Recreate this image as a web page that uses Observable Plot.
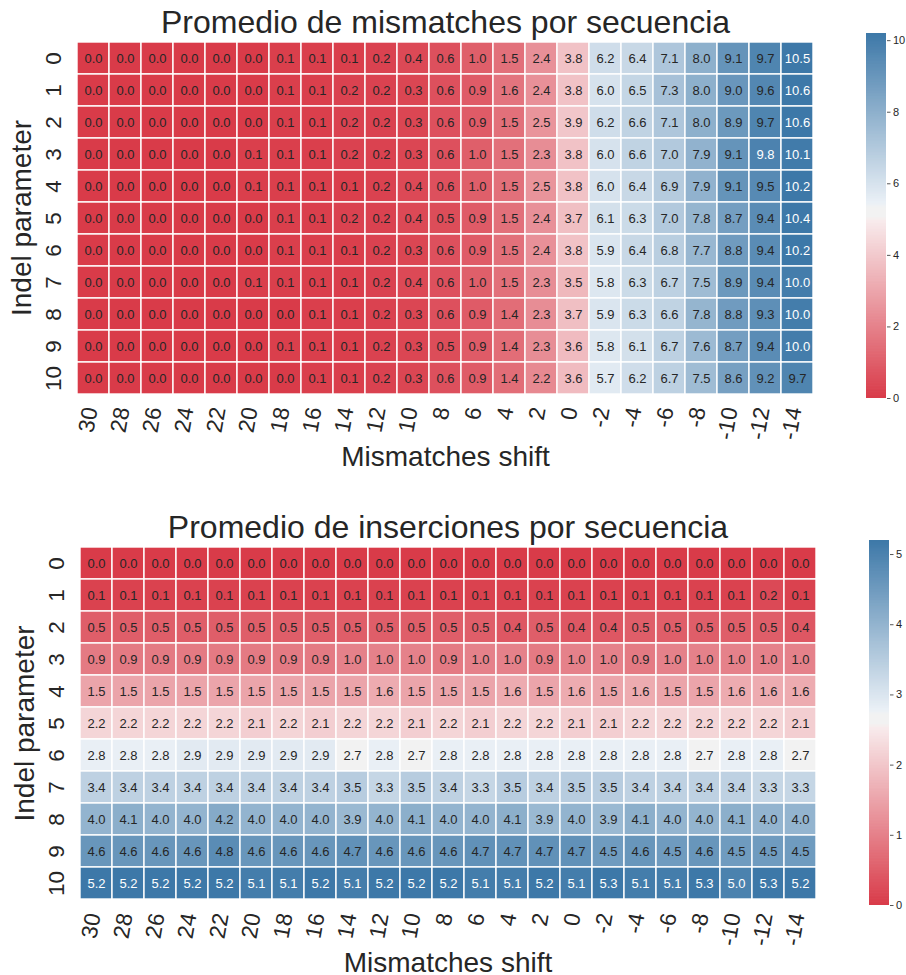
<!DOCTYPE html>
<html>
<head>
<meta charset="utf-8">
<script src="https://cdn.jsdelivr.net/npm/d3@7"></script>
<script src="https://cdn.jsdelivr.net/npm/@observablehq/plot@0.6"></script>
<style>
  html, body { margin: 0; padding: 0; background: #fff; overflow: hidden; }
  #root { position: relative; width: 906px; height: 975px; font-family: "Liberation Sans", Arial, sans-serif; }
  #root > div, #root > svg { position: absolute; }
</style>
</head>
<body>
<div id="root"></div>
<script>
// ---- data ----
const shifts = [30, 28, 26, 24, 22, 20, 18, 16, 14, 12, 10, 8, 6, 4, 2, 0, -2, -4, -6, -8, -10, -12, -14];
const indelParams = [0, 1, 2, 3, 4, 5, 6, 7, 8, 9, 10];

const mismatchRows = [
  [0.0,0.0,0.0,0.0,0.0,0.0,0.1,0.1,0.1,0.2,0.4,0.6,1.0,1.5,2.4,3.8,6.2,6.4,7.1,8.0,9.1,9.7,10.5],
  [0.0,0.0,0.0,0.0,0.0,0.0,0.1,0.1,0.2,0.2,0.3,0.6,0.9,1.6,2.4,3.8,6.0,6.5,7.3,8.0,9.0,9.6,10.6],
  [0.0,0.0,0.0,0.0,0.0,0.0,0.1,0.1,0.2,0.2,0.3,0.6,0.9,1.5,2.5,3.9,6.2,6.6,7.1,8.0,8.9,9.7,10.6],
  [0.0,0.0,0.0,0.0,0.0,0.1,0.1,0.1,0.2,0.2,0.3,0.6,1.0,1.5,2.3,3.8,6.0,6.6,7.0,7.9,9.1,9.8,10.1],
  [0.0,0.0,0.0,0.0,0.0,0.1,0.1,0.1,0.1,0.2,0.4,0.6,1.0,1.5,2.5,3.8,6.0,6.4,6.9,7.9,9.1,9.5,10.2],
  [0.0,0.0,0.0,0.0,0.0,0.0,0.1,0.1,0.2,0.2,0.4,0.5,0.9,1.5,2.4,3.7,6.1,6.3,7.0,7.8,8.7,9.4,10.4],
  [0.0,0.0,0.0,0.0,0.0,0.0,0.1,0.1,0.1,0.2,0.3,0.6,0.9,1.5,2.4,3.8,5.9,6.4,6.8,7.7,8.8,9.4,10.2],
  [0.0,0.0,0.0,0.0,0.0,0.1,0.1,0.1,0.1,0.2,0.4,0.6,1.0,1.5,2.3,3.5,5.8,6.3,6.7,7.5,8.9,9.4,10.0],
  [0.0,0.0,0.0,0.0,0.0,0.0,0.0,0.1,0.1,0.2,0.3,0.6,0.9,1.4,2.3,3.7,5.9,6.3,6.6,7.8,8.8,9.3,10.0],
  [0.0,0.0,0.0,0.0,0.0,0.0,0.1,0.1,0.1,0.2,0.3,0.5,0.9,1.4,2.3,3.6,5.8,6.1,6.7,7.6,8.7,9.4,10.0],
  [0.0,0.0,0.0,0.0,0.0,0.0,0.0,0.1,0.1,0.2,0.3,0.6,0.9,1.4,2.2,3.6,5.7,6.2,6.7,7.5,8.6,9.2,9.7]
];

const insertionRows = [
  [0.0,0.0,0.0,0.0,0.0,0.0,0.0,0.0,0.0,0.0,0.0,0.0,0.0,0.0,0.0,0.0,0.0,0.0,0.0,0.0,0.0,0.0,0.0],
  [0.1,0.1,0.1,0.1,0.1,0.1,0.1,0.1,0.1,0.1,0.1,0.1,0.1,0.1,0.1,0.1,0.1,0.1,0.1,0.1,0.1,0.2,0.1],
  [0.5,0.5,0.5,0.5,0.5,0.5,0.5,0.5,0.5,0.5,0.5,0.5,0.5,0.4,0.5,0.4,0.4,0.5,0.5,0.5,0.5,0.5,0.4],
  [0.9,0.9,0.9,0.9,0.9,0.9,0.9,0.9,1.0,1.0,1.0,0.9,1.0,1.0,0.9,1.0,1.0,0.9,1.0,1.0,1.0,1.0,1.0],
  [1.5,1.5,1.5,1.5,1.5,1.5,1.5,1.5,1.5,1.6,1.5,1.5,1.5,1.6,1.5,1.6,1.5,1.6,1.5,1.5,1.6,1.6,1.6],
  [2.2,2.2,2.2,2.2,2.2,2.1,2.2,2.1,2.2,2.2,2.1,2.2,2.1,2.2,2.2,2.1,2.1,2.2,2.2,2.2,2.2,2.2,2.1],
  [2.8,2.8,2.8,2.9,2.9,2.9,2.9,2.9,2.7,2.8,2.7,2.8,2.8,2.8,2.8,2.8,2.8,2.8,2.8,2.7,2.8,2.8,2.7],
  [3.4,3.4,3.4,3.4,3.4,3.4,3.4,3.4,3.5,3.3,3.5,3.4,3.3,3.5,3.4,3.5,3.5,3.4,3.4,3.4,3.4,3.3,3.3],
  [4.0,4.1,4.0,4.0,4.2,4.0,4.0,4.0,3.9,4.0,4.1,4.0,4.0,4.1,3.9,4.0,3.9,4.1,4.0,4.0,4.1,4.0,4.0],
  [4.6,4.6,4.6,4.6,4.8,4.6,4.6,4.6,4.7,4.6,4.6,4.6,4.7,4.7,4.7,4.7,4.5,4.6,4.5,4.6,4.5,4.5,4.5],
  [5.2,5.2,5.2,5.2,5.2,5.1,5.1,5.2,5.1,5.2,5.2,5.2,5.1,5.1,5.2,5.1,5.3,5.1,5.1,5.3,5.0,5.3,5.2]
];

const mismatchTicks = [0, 2, 4, 6, 8, 10];
const insertionTicks = [0, 1, 2, 3, 4, 5];

const title1 = "Promedio de mismatches por secuencia";
const title2 = "Promedio de inserciones por secuencia";
const xLabel = "Mismatches shift";
const yLabel = "Indel parameter";

// ---- styling ----
const FONT = '"Liberation Sans", Arial, sans-serif';
const TXT = "#262626";
const palette = ["#d93b49", "#f8ebec", "#f2f2f2", "#f2f2f2", "#eaf0f6", "#3d78a8"];

function colorOpts(vmax) {
  return {
    type: "linear",
    domain: [0, 0.485, 0.497, 0.522, 0.535, 1].map(t => t * vmax),
    range: palette,
    interpolate: "rgb",
    clamp: true
  };
}

function heatmap({rows, vmax, title, marginLeft, marginRight, innerH, height}) {
  const cells = [];
  indelParams.forEach((r, i) => shifts.forEach((s, j) => {
    cells.push({shift: String(s), indel: String(r), value: rows[i][j]});
  }));
  const light = d => d.value / vmax > 0.955;
  return Plot.plot({
    width: 906,
    height,
    marginLeft,
    marginRight,
    marginTop: 38,
    marginBottom: height - 38 - innerH,
    style: {fontFamily: FONT, color: TXT, background: "transparent"},
    x: {type: "band", domain: shifts.map(String), padding: 0, axis: null},
    y: {type: "band", domain: indelParams.map(String), padding: 0, axis: null},
    color: colorOpts(vmax),
    marks: [
      Plot.cell(cells, {x: "shift", y: "indel", fill: "value", stroke: "white", strokeWidth: 1.4}),
      Plot.text(cells.filter(d => !light(d)), {x: "shift", y: "indel", text: d => d.value.toFixed(1), fill: TXT, fontSize: 13}),
      Plot.text(cells.filter(light), {x: "shift", y: "indel", text: d => d.value.toFixed(1), fill: "white", fontSize: 13}),
      Plot.text(shifts.map(String), {x: d => d, text: d => d, frameAnchor: "bottom", dy: 10, dx: -3, rotate: -80, textAnchor: "end", lineAnchor: "middle", fontSize: 22.5, fill: TXT}),
      Plot.text(indelParams.map(String), {y: d => d, text: d => d, frameAnchor: "left", dx: -17, rotate: -90, textAnchor: "middle", lineAnchor: "middle", fontSize: 22.5, fill: TXT}),
      Plot.text([title], {text: d => d, frameAnchor: "top", dy: -16, textAnchor: "middle", lineAnchor: "middle", fontSize: 32, fill: TXT}),
      Plot.text([xLabel], {text: d => d, frameAnchor: "bottom", dy: 60, textAnchor: "middle", lineAnchor: "middle", fontSize: 28, fill: TXT}),
      Plot.text([yLabel], {text: d => d, frameAnchor: "left", dx: -48, rotate: -90, textAnchor: "middle", lineAnchor: "middle", fontSize: 28, fill: TXT})
    ]
  });
}

function colorbar({vmax, ticks, barH}) {
  const n = 240;
  const steps = d3.range(n).map(i => i * vmax / n);
  return Plot.plot({
    width: 50,
    height: barH + 10,
    marginTop: 5,
    marginBottom: 5,
    marginLeft: 0,
    marginRight: 30,
    style: {fontFamily: FONT, color: TXT, background: "transparent"},
    x: {domain: [0, 1], axis: null},
    y: {domain: [0, vmax]},
    color: colorOpts(vmax),
    marks: [
      Plot.rect(steps, {x1: 0, x2: 1, y1: d => d, y2: d => Math.min(vmax, d + vmax / n * 1.5), fill: d => d + vmax / n / 2}),
      Plot.axisY({anchor: "right", ticks, tickSize: 3.5, tickPadding: 3, fontSize: 11, label: null, stroke: "#555", fill: TXT, tickFormat: d => String(d)})
    ]
  });
}

const root = document.getElementById("root");
function place(node, left, top) {
  node.style.position = "absolute";
  node.style.left = left + "px";
  node.style.top = top + "px";
  root.appendChild(node);
}

place(heatmap({rows: mismatchRows, vmax: 10.2, title: title1, marginLeft: 70, marginRight: 86, innerH: 359, height: 478}), 0, 0);
place(heatmap({rows: insertionRows, vmax: 5.2, title: title2, marginLeft: 73, marginRight: 84, innerH: 360, height: 475}), 0, 505);
place(colorbar({vmax: 10.2, ticks: mismatchTicks, barH: 365}), 866, 28);
place(colorbar({vmax: 5.2, ticks: insertionTicks, barH: 365}), 869, 535);
</script>
</body>
</html>
